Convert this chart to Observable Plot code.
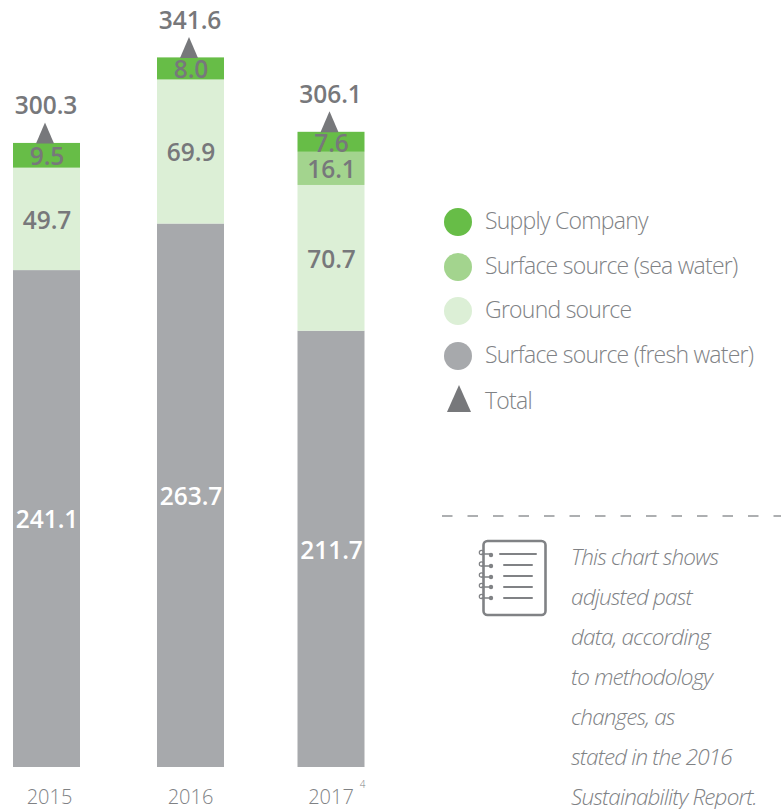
<!DOCTYPE html>
<html>
<head>
<meta charset="utf-8">
<script src="https://cdn.jsdelivr.net/npm/d3@7"></script>
<script src="https://cdn.jsdelivr.net/npm/@observablehq/plot@0.6"></script>
<style>
html,body{margin:0;padding:0;background:#fff;}
#wrap{position:relative;width:781px;height:809px;overflow:hidden;font-family:"Open Sans",sans-serif;}
#chart svg{display:block;position:absolute;left:0;top:0;}
.lg{position:absolute;left:485px;height:30px;line-height:30px;font-size:23px;font-weight:300;color:#808285;letter-spacing:-.75px;white-space:nowrap;}
.sw{position:absolute;left:444px;width:28px;height:28px;border-radius:50%;}
#note{position:absolute;left:571px;top:537px;font-size:22.5px;line-height:40px;font-style:italic;font-weight:300;color:#808285;letter-spacing:-.85px;white-space:nowrap;}
#overlay{position:absolute;left:0;top:0;}
</style>
</head>
<body>
<div id="wrap">
<div id="chart"></div>
<div id="legend"></div>
<svg id="overlay" width="781" height="809">
  <line x1="442" y1="516" x2="781" y2="516" stroke="#939598" stroke-width="1.3" stroke-dasharray="10.5 15"/>
  <polygon points="447,412 471,412 459,385" fill="#77787b"/>
  <g fill="none" stroke="#808285" stroke-width="2.6" stroke-linecap="round">
    <rect x="483.5" y="541" width="62" height="74" rx="4"/>
    <path d="M500 554H536M504 565H532M504 576H532M504 587H532M504 598H532" stroke-width="2"/>
    <path d="M482 554H491M482 566H491M482 577H491M482 587H491M482 598H491" stroke-width="1.6"/>
  </g>
  <g fill="#808285"><circle cx="491" cy="555" r="2.2"/><circle cx="491" cy="566" r="2.2"/><circle cx="491" cy="577" r="2.2"/><circle cx="491" cy="587" r="2.2"/><circle cx="491" cy="598" r="2.2"/></g>
  <g fill="none" stroke="#808285" stroke-width="1.2"><circle cx="481.5" cy="552.5" r="2.2"/><circle cx="481.5" cy="564" r="2.2"/><circle cx="481.5" cy="575" r="2.2"/><circle cx="481.5" cy="585.5" r="2.2"/><circle cx="481.5" cy="596.5" r="2.2"/></g>
</svg>
<div id="note"></div>
</div>
<script>
const years = [2015, 2016, 2017];
const tickLabels = ["2015", "2016", "2017"];
const freshWater = [241.1, 263.7, 211.7];
const ground = [49.7, 69.9, 70.7];
const seaWater = [0, 0, 16.1];
const supply = [9.5, 8.0, 7.6];
// The picture draws the thin top band a little taller than its label says; heights.
const supplyDrawn = [12.0, 10.7, 9.7];
const totals = [300.3, 341.6, 306.1];
const seriesNames = ["Supply Company", "Surface source (sea water)", "Ground source", "Surface source (fresh water)"];
const seriesColors = ["#67bd47", "#a3d48e", "#dcefd6", "#a7a9ac"];
const noteLines = ["This chart shows", "adjusted past", "data, according", "to methodology", "changes, as", "stated in the 2016", "Sustainability Report."];

const gray = "#77787b";
const rows = [];
years.forEach((year, i) => {
  let base = 0;
  [
    [seriesNames[3], freshWater[i], freshWater[i], "#fff"],
    [seriesNames[2], ground[i], ground[i], gray],
    [seriesNames[1], seaWater[i], seaWater[i], gray],
    [seriesNames[0], supplyDrawn[i], supply[i], gray]
  ].forEach(([series, height, label, ink]) => {
    if (height > 0) rows.push({year, series, y1: base, y2: base + height, label: label.toFixed(1), ink});
    base += height;
  });
});
const tops = years.map((year, i) => ({
  year,
  top: freshWater[i] + ground[i] + seaWater[i] + supplyDrawn[i],
  total: totals[i].toFixed(1)
}));

const tallTriangle = {draw(ctx) { ctx.moveTo(0, -21); ctx.lineTo(9, 0); ctx.lineTo(-9, 0); ctx.closePath(); }};
const halfBar = 33.5;
const labelFont = {fontFamily: "'Open Sans',sans-serif", fontWeight: 600, fontSize: 24.5};
const tickFont = {fontFamily: "'Open Sans',sans-serif", fontWeight: 300, fontSize: 20, fill: "#808285"};

const plot = Plot.plot({
  width: 781,
  height: 809,
  marginTop: 0, marginBottom: 42, marginLeft: 0, marginRight: 0,
  style: {background: "transparent", overflow: "visible"},
  x: {type: "linear", domain: years, range: [46.5, 190.5, 331], axis: null},
  y: {domain: [0, 767 / 2.061], axis: null},
  color: {domain: seriesNames, range: seriesColors},
  marks: [
    Plot.rect(rows, {x1: "year", x2: "year", y1: "y1", y2: "y2", fill: "series", insetLeft: -halfBar, insetRight: -halfBar}),
    Plot.dot(tops, {x: "year", y: "top", symbol: tallTriangle, fill: gray, r: 10, dx: -2}),
    Plot.text(rows, {x: "year", y: d => (d.y1 + d.y2) / 2, text: "label", fill: "ink", dy: 1.5, ...labelFont}),
    Plot.text(tops, {x: "year", y: "top", text: "total", fill: gray, dy: -37, dx: -1, ...labelFont}),
    Plot.text(years.slice(0, 1), {x: d => d, y: 0, text: () => tickLabels[0], dy: 30, dx: 2.5, ...tickFont}),
    Plot.text(years.slice(1), {x: d => d, y: 0, text: d => tickLabels[years.indexOf(d)], dy: 30, dx: -0.5, ...tickFont}),
    Plot.text([years[2]], {x: d => d, y: 0, text: () => "4", dy: 17, dx: 31, ...tickFont, fontSize: 10})
  ]
});
document.getElementById("chart").append(plot);

const legend = document.getElementById("legend");
const rowY = [222, 266.5, 311, 356];
seriesNames.forEach((name, i) => {
  const sw = document.createElement("div");
  sw.className = "sw"; sw.style.top = (rowY[i] - 14) + "px"; sw.style.background = seriesColors[i];
  const t = document.createElement("div");
  t.className = "lg"; t.style.top = (rowY[i] - 17) + "px"; t.textContent = name;
  legend.append(sw, t);
});
const tot = document.createElement("div");
tot.className = "lg"; tot.style.top = "385px"; tot.textContent = "Total";
legend.append(tot);
document.getElementById("note").innerHTML = noteLines.join("<br>");
</script>
</body>
</html>
